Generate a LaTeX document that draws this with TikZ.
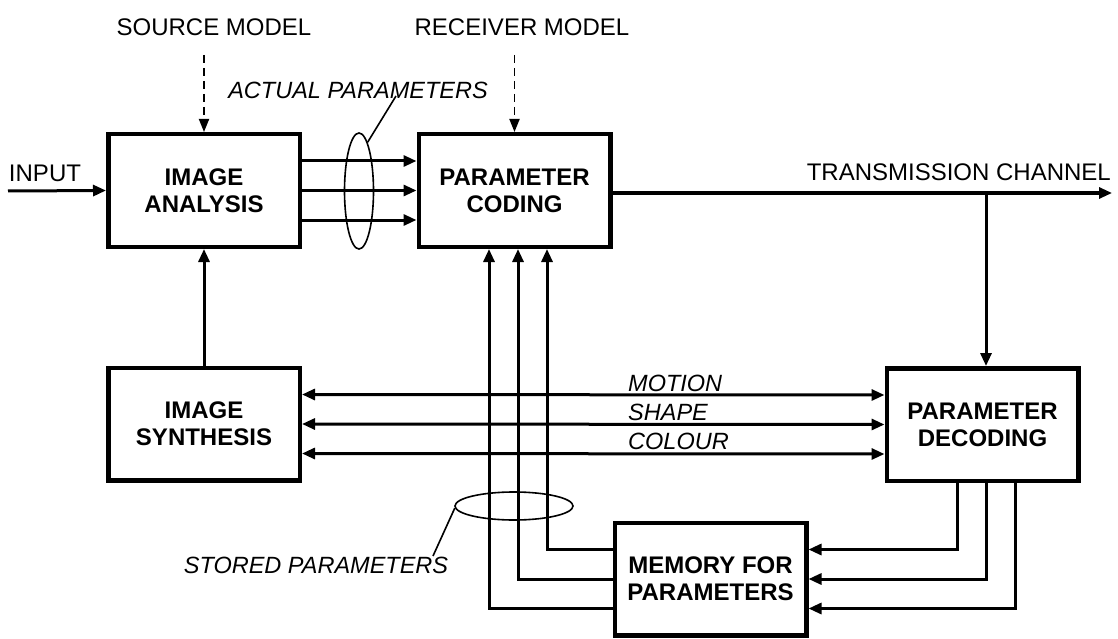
\documentclass[tikz,border=0pt]{standalone}
\usepackage{fontspec}
\setmainfont{Liberation Sans}
\usetikzlibrary{arrows.meta,shapes.geometric}

\tikzset{
  block/.style={draw, line width=4.5pt, minimum width=191.5pt, minimum height=112.5pt,
    align=center, font=\fontsize{24pt}{27pt}\selectfont\bfseries},
  conn/.style={line width=3pt, -{Triangle[length=13pt,width=11pt]}},
  twoway/.style={line width=3pt, {Triangle[length=13pt,width=11pt]}-{Triangle[length=13pt,width=11pt]}},
  hint/.style={line width=1.8pt, dash pattern=on 8pt off 5pt, -{Triangle[length=13pt,width=10pt]}},
  lbl/.style={inner sep=1pt, font=\fontsize{24pt}{27pt}\selectfont},
  note/.style={inner sep=1pt, font=\fontsize{23.5pt}{27pt}\selectfont\itshape},
  ring/.style={draw, ellipse, line width=1.6pt, inner sep=0pt},
  leader/.style={line width=1.6pt}
}

\begin{document}
\begin{tikzpicture}[x=1pt, y=-1pt]
  \useasboundingbox (0,0) rectangle (1118,639);
  % boxes
  \node[block] (ana) at (204,190.5) {IMAGE\\ANALYSIS};
  \node[block] (cod) at (514.5,190.5) {PARAMETER\\CODING};
  \node[block] (syn) at (204,424) {IMAGE\\SYNTHESIS};
  \node[block] (dec) at (982.5,424.5) {PARAMETER\\DECODING};
  \node[block] (mem) at (710.5,579) {MEMORY FOR\\PARAMETERS};
  % labels
  \node[lbl] (src) at (214,27) {SOURCE MODEL};
  \node[lbl] (rcv) at (522,27) {RECEIVER MODEL};
  \node[lbl] (inp) at (45,173) {INPUT};
  \node[lbl, anchor=east] (chan) at (1112,172) {TRANSMISSION CHANNEL};
  \node[note] (act) at (358,90) {ACTUAL PARAMETERS};
  \node[note] (sto) at (316,565) {STORED PARAMETERS};
  \node[note, anchor=base west] (mot) at (627,391) {MOTION};
  \node[note, anchor=base west] (shp) at (627,420) {SHAPE};
  \node[note, anchor=base west] (col) at (627,449) {COLOUR};
  % free ends
  \coordinate (srcin) at (204,55);
  \coordinate (rcvin) at (514.5,55);
  \coordinate (inpin) at (8,191);
  \coordinate (chanend) at (1112,193);
  \coordinate (branch) at (986,193);
  \coordinate (actend) at (396,96);
  \coordinate (stoend) at (433,556);
  % model inputs
  \draw[hint] (srcin) -- (ana.north);
  \draw[hint] (rcvin) -- (cod.north);
  \draw[conn] (inpin) -- (ana.west);
  % actual parameters
  \draw[conn] ([yshift=29.5pt]ana.east) -- ([yshift=29.5pt]cod.west);
  \draw[conn] (ana.east) -- (cod.west);
  \draw[conn] ([yshift=-29.5pt]ana.east) -- ([yshift=-29.5pt]cod.west);
  \node[ring, minimum width=29pt, minimum height=116pt] (actring) at (359,191) {};
  \draw[leader] (actring.80) -- (actend);
  % channel
  \draw[conn] ([yshift=-2.5pt]cod.east) -- (chanend);
  \draw[conn] (branch) -- (branch |- dec.north);
  \draw[conn] (syn.north) -- (ana.south);
  % motion, shape, colour
  \draw[twoway] ([yshift=29.5pt]syn.east) -- ([yshift=29.5pt]dec.west);
  \draw[twoway] (syn.east) -- (dec.west);
  \draw[twoway] ([yshift=-29.5pt]syn.east) -- ([yshift=-29.5pt]dec.west);
  % stored parameters
  \draw[conn] ([yshift=29.5pt]mem.west) -| ([xshift=32.5pt]cod.south);
  \draw[conn] (mem.west) -| ([xshift=3.5pt]cod.south);
  \draw[conn] ([yshift=-29.5pt]mem.west) -| ([xshift=-25.5pt]cod.south);
  \draw[conn] ([xshift=-25.5pt]dec.south) |- ([yshift=29.5pt]mem.east);
  \draw[conn] ([xshift=3.5pt]dec.south) |- (mem.east);
  \draw[conn] ([xshift=32.5pt]dec.south) |- ([yshift=-29.5pt]mem.east);
  \node[ring, minimum width=118pt, minimum height=28pt] (stoparring) at (514,506) {};
  \draw[leader] (stoparring.182) -- (stoend);
\end{tikzpicture}
\end{document}
